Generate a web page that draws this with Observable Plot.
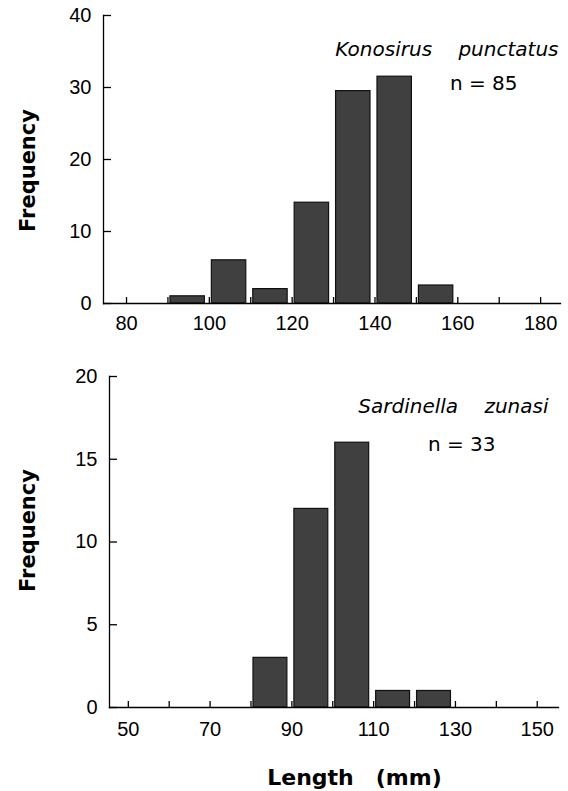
<!DOCTYPE html>
<html>
<head>
<meta charset="utf-8">
<script src="https://cdn.jsdelivr.net/npm/d3@7"></script>
<script src="https://cdn.jsdelivr.net/npm/@observablehq/plot@0.6"></script>
<style>
  html, body { margin: 0; padding: 0; background: #fff; }
  #chart svg { display: block; }
</style>
</head>
<body>
<div id="chart"></div>
<script>
// Top panel: Konosirus punctatus
const topBinStart = [90, 100, 110, 120, 130, 140, 150];
const topBinWidth = 10;
const topFreq = [1, 6, 2, 14, 29.5, 31.5, 2.5];
const topXTickLabels = [80, 100, 120, 140, 160, 180];
const topXTickMarks = [80, 90, 100, 110, 120, 130, 140, 150, 160, 170, 180];
const topYTicks = [0, 10, 20, 30, 40];
const topSpecies = "Konosirus\u2003 punctatus";
const topN = "n = 85";

// Bottom panel: Sardinella zunasi
const botBinStart = [80, 90, 100, 110, 120];
const botBinWidth = 10;
const botFreq = [3, 12, 16, 1, 1];
const botXTickLabels = [50, 70, 90, 110, 130, 150];
const botXTickMarks = [50, 60, 70, 80, 90, 100, 110, 120, 130, 140, 150];
const botYTicks = [0, 5, 10, 15, 20];
const botSpecies = "Sardinella\u2003 zunasi";
const botN = "n = 33";

const yLabel = "Frequency";
const xLabel = "Length\u2003(mm)";

const topData = topBinStart.map((s, i) => ({x1: s, x2: s + topBinWidth, y: topFreq[i]}));
const botData = botBinStart.map((s, i) => ({x1: s, x2: s + botBinWidth, y: botFreq[i]}));

const barStyle = {fill: "#404040", stroke: "#111", strokeWidth: 1.2, insetLeft: 2.5, insetRight: 4.5};
const font = {fontFamily: "DejaVu Sans", fontSize: "18px", background: "#fff", color: "#000", overflow: "visible"};
const tickFont = {fontFamily: "Liberation Sans", fontSize: 20};

function panel(o) {
  const W = 568;
  const frameW = W - o.marginLeft - o.marginRight;
  const frameH = o.height - o.marginTop - o.marginBottom;
  const marks = [
    Plot.rectY(o.data, {x1: "x1", x2: "x2", y: "y", ...barStyle}),
    Plot.frame({anchor: "left", stroke: "#000", strokeWidth: 1.3}),
    Plot.frame({anchor: "bottom", stroke: "#000", strokeWidth: 1.3}),
    Plot.tickY(o.yTicks, {y: d => d, insetRight: frameW - 8, stroke: "#000", strokeWidth: 1.3}),
    Plot.tickX(o.xTickMarks, {x: d => d, insetTop: frameH - 6, stroke: "#000", strokeWidth: 1.3}),
    Plot.axisX({ticks: o.xTickLabels, tickSize: 0, tickPadding: o.xPad, label: null, ...tickFont}),
    Plot.axisY({ticks: o.yTicks, tickSize: 0, tickPadding: o.yPad, label: null, ...tickFont}),
    Plot.text([o.species], {text: d => d, frameAnchor: "top-right", textAnchor: "end", dx: o.spDx, dy: o.spDy, fontStyle: "italic", fontSize: 20}),
    Plot.text([o.n], {text: d => d, frameAnchor: "top-right", textAnchor: "end", dx: o.nDx, dy: o.nDy, fontSize: 20}),
    Plot.text([yLabel], {text: d => d, frameAnchor: "left", textAnchor: "middle", lineAnchor: "middle", rotate: -90, dx: o.fDx, dy: o.fDy, fontSize: 21, fontWeight: "bold"})
  ];
  if (o.xLabel) {
    marks.push(Plot.text([o.xLabel], {text: d => d, frameAnchor: "bottom", textAnchor: "middle", lineAnchor: "middle", dx: o.lDx, dy: o.lDy, fontSize: 22, fontWeight: "bold"}));
  }
  return Plot.plot({
    width: W,
    height: o.height,
    marginTop: o.marginTop,
    marginBottom: o.marginBottom,
    marginLeft: o.marginLeft,
    marginRight: o.marginRight,
    style: font,
    x: {domain: o.xDomain},
    y: {domain: o.yDomain},
    marks
  });
}

const topPlot = panel({
  data: topData, height: 340, marginTop: 15, marginBottom: 37, marginLeft: 103, marginRight: 8,
  xDomain: [74.44, 184.8], yDomain: [0, 40],
  xTickLabels: topXTickLabels, xTickMarks: topXTickMarks, yTicks: topYTicks,
  xPad: 12, yPad: 12,
  species: topSpecies, spDx: -2, spDy: 26,
  n: topN, nDx: -43, nDy: 60,
  fDx: -75, fDy: 11
});

const botPlot = panel({
  data: botData, height: 451, marginTop: 36, marginBottom: 84, marginLeft: 109, marginRight: 10,
  xDomain: [45.4, 155.2], yDomain: [0, 20],
  xTickLabels: botXTickLabels, xTickMarks: botXTickMarks, yTicks: botYTicks,
  xPad: 14, yPad: 12,
  species: botSpecies, spDx: -10, spDy: 22.5,
  n: botN, nDx: -63, nDy: 60.5,
  fDx: -81, fDy: -11.5,
  xLabel: xLabel, lDx: 20.5, lDy: 70
});

const chart = document.getElementById("chart");
chart.appendChild(topPlot);
chart.appendChild(botPlot);
</script>
</body>
</html>
